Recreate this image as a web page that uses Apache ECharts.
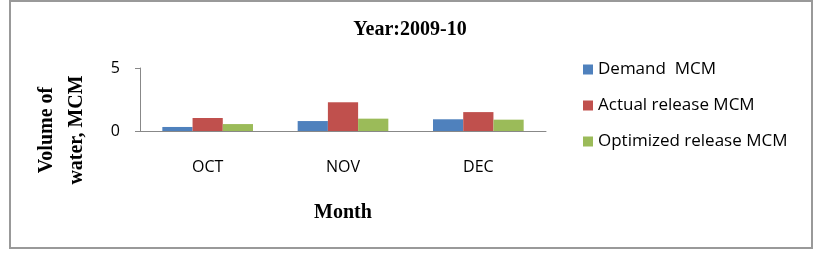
<!DOCTYPE html>
<html>
<head>
<meta charset="utf-8">
<script src="https://cdn.jsdelivr.net/npm/echarts@6/dist/echarts.min.js"></script>
<style>
    html, body { margin: 0; padding: 0; background: #fff; }
    #chart { width: 820px; height: 256px; }
</style>
</head>
<body>
<div id="chart"></div>
<script>
    // values
    let months = ['OCT', 'NOV', 'DEC'];
    let demand = [0.32, 0.79, 0.93];
    let actualRelease = [1.03, 2.28, 1.5];
    let optimizedRelease = [0.55, 0.98, 0.9];
    let seriesNames = ['Demand  MCM', 'Actual release MCM', 'Optimized release MCM'];

    let myChart = echarts.init(document.getElementById('chart'));

    let option = {
        animation: false,
        color: ['#4F81BD', '#C0504D', '#9BBB59'],
        graphic: [{
            type: 'rect',
            shape: {x: 10, y: 1, width: 802, height: 247},
            style: {fill: 'none', stroke: '#999', lineWidth: 2}
        }, {
            // y axis title sits lower than the plot centre in the original
            type: 'text',
            x: 62,
            y: 130,
            rotation: Math.PI / 2,
            style: {
                text: 'Volume of\nwater, MCM',
                font: 'bold 20px "Liberation Serif"',
                lineHeight: 30,
                align: 'center',
                verticalAlign: 'middle',
                fill: '#000'
            }
        }],
        title: {
            text: 'Year:2009-10',
            left: 'center',
            top: 15,
            textStyle: {
                fontFamily: 'Liberation Serif',
                fontWeight: 'bold',
                fontSize: 20,
                color: '#000'
            }
        },
        legend: {
            orient: 'vertical',
            left: 578,
            top: 56,
            itemWidth: 10,
            itemHeight: 10,
            itemGap: 19,
            icon: 'rect',
            data: seriesNames,
            textStyle: {
                fontFamily: 'Open Sans',
                fontSize: 17,
                color: '#000'
            }
        },
        grid: {
            left: 140,
            right: 274,
            top: 68,
            bottom: 125
        },
        xAxis: {
            type: 'category',
            data: months,
            name: 'Month',
            nameLocation: 'middle',
            nameGap: 72,
            nameTextStyle: {
                fontFamily: 'Liberation Serif',
                fontWeight: 'bold',
                fontSize: 20,
                color: '#000'
            },
            axisLine: {lineStyle: {color: '#888'}},
            axisTick: {show: false},
            axisLabel: {
                margin: 28,
                fontFamily: 'Open Sans',
                fontSize: 16,
                color: '#000'
            }
        },
        yAxis: {
            type: 'value',
            min: 0,
            max: 5,
            interval: 5,
            axisLine: {show: true, lineStyle: {color: '#888'}},
            axisTick: {show: true, length: 5, lineStyle: {color: '#888'}},
            splitLine: {show: false},
            axisLabel: {
                margin: 20,
                fontFamily: 'Open Sans',
                fontSize: 16,
                color: '#000'
            }
        },
        series: [{
            name: seriesNames[0],
            type: 'bar',
            data: demand,
            barGap: '0%',
            barCategoryGap: '33%'
        }, {
            name: seriesNames[1],
            type: 'bar',
            data: actualRelease
        }, {
            name: seriesNames[2],
            type: 'bar',
            data: optimizedRelease
        }]
    };
    myChart.setOption(option);
</script>
</body>
</html>
